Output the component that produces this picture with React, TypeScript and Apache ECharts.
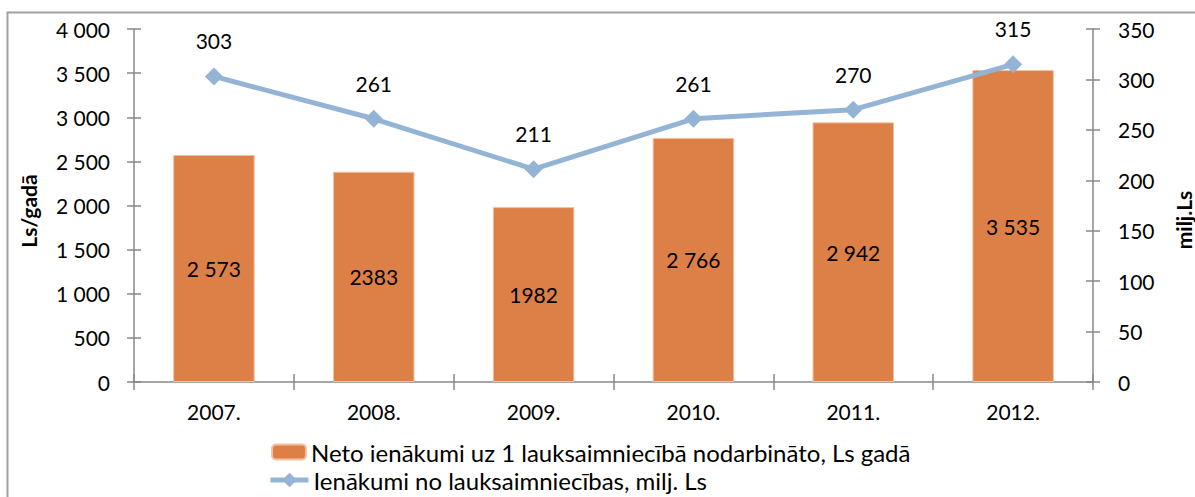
import React, { useEffect, useRef } from "react";
import * as echarts from "echarts";

const categories = ["2007.", "2008.", "2009.", "2010.", "2011.", "2012."];
const barValues = [2573, 2383, 1982, 2766, 2942, 3535];
const barLabels = ["2 573", "2383", "1982", "2 766", "2 942", "3 535"];
const lineValues = [303, 261, 211, 261, 270, 315];
const barName = "Neto ienākumi uz 1 lauksaimniecībā nodarbināto, Ls gadā";
const lineName = "Ienākumi no lauksaimniecības, milj. Ls";
const leftTitle = "Ls/gadā";
const rightTitle = "milj.Ls";

const FONT = "Lato";
const AXIS_COLOR = "#888888";
const BAR_COLOR = "#DD8047";
const LINE_COLOR = "#93B4D5";

const fmtThousands = (v: number) =>
  String(v).replace(/\B(?=(\d{3})+(?!\d))/g, " ");

export default function App() {
  const ref = useRef<HTMLDivElement>(null);
  useEffect(() => {
    document.body.style.margin = "0";
    const chart = echarts.init(ref.current!, null, { renderer: "svg" });
    const grid = { left: 134, right: 102, top: 29, bottom: 115 };
    const tickStyle = { color: AXIS_COLOR, width: 1.5 };
    const baseY = (min: number, max: number, interval: number) => ({
      type: "value" as const,
      min,
      max,
      interval,
      splitLine: { show: false },
      axisLine: { show: true, lineStyle: { color: AXIS_COLOR, width: 1.5 } },
    });
    chart.setOption({
      animation: false,
      grid,
      graphic: [
        {
          type: "rect",
          shape: { x: 7.5, y: 12.5, width: 1300, height: 700 },
          style: { fill: "none", stroke: "#A0A0A0", lineWidth: 2 },
          silent: true,
        },
        {
          type: "text",
          x: 28,
          y: 211,
          rotation: Math.PI / 2,
          style: {
            text: leftTitle,
            font: `bold 21px ${FONT}`,
            fill: "#000",
            align: "center",
            verticalAlign: "middle",
          },
        },
        {
          type: "text",
          x: 1183,
          y: 220,
          rotation: Math.PI / 2,
          style: {
            text: rightTitle,
            font: `bold 21px ${FONT}`,
            fill: "#000",
            align: "center",
            verticalAlign: "middle",
          },
        },
      ],
      legend: [
        {
          data: [barName],
          orient: "vertical",
          left: 271,
          top: 440,
          padding: 0,
          itemWidth: 34,
          itemHeight: 15,
          itemGap: 6,
          textStyle: { fontFamily: FONT, fontSize: 24, color: "#000" },
        },
        {
          data: [lineName],
          orient: "vertical",
          left: 268,
          top: 468,
          padding: 0,
          itemWidth: 38,
          itemHeight: 18,
          itemGap: 5,
          lineStyle: { width: 5, color: LINE_COLOR },
          itemStyle: { color: LINE_COLOR },
          textStyle: { fontFamily: FONT, fontSize: 24, color: "#000" },
        },
      ],
      xAxis: [
        {
          type: "category",
          data: categories,
          axisLine: { lineStyle: { color: AXIS_COLOR, width: 1.5 } },
          axisTick: { show: true, length: 8, lineStyle: tickStyle },
          axisLabel: {
            fontFamily: FONT,
            fontSize: 21,
            color: "#000",
            margin: 19,
          },
        },
        {
          type: "category",
          data: categories,
          position: "bottom",
          axisLine: { show: false },
          axisTick: { show: true, inside: true, length: 8, lineStyle: tickStyle },
          axisLabel: { show: false },
        },
      ],
      yAxis: [
        {
          ...baseY(0, 4000, 500),
          position: "left",
          axisTick: { show: true, length: 7, lineStyle: tickStyle },
          axisLabel: {
            fontFamily: FONT,
            fontSize: 21,
            color: "#000",
            margin: 24,
            formatter: (v: number) => fmtThousands(v),
          },
        },
        {
          ...baseY(0, 350, 50),
          position: "right",
          axisTick: { show: true, length: 7, lineStyle: tickStyle },
          axisLabel: {
            fontFamily: FONT,
            fontSize: 21,
            color: "#000",
            margin: 25,
          },
        },
        {
          ...baseY(0, 4000, 500),
          position: "left",
          axisLine: { show: false },
          axisTick: { show: true, inside: true, length: 7, lineStyle: tickStyle },
          axisLabel: { show: false },
        },
        {
          ...baseY(0, 350, 50),
          position: "right",
          axisLine: { show: false },
          axisTick: { show: true, inside: true, length: 7, lineStyle: tickStyle },
          axisLabel: { show: false },
        },
      ],
      series: [
        {
          name: barName,
          type: "bar",
          data: barValues,
          barWidth: "51%",
          yAxisIndex: 0,
          itemStyle: { color: BAR_COLOR, borderColor: "#F3C1A2", borderWidth: 1 },
          label: {
            show: true,
            position: "inside",
            fontFamily: FONT,
            fontSize: 21,
            color: "#000",
            formatter: (p: any) => barLabels[p.dataIndex],
          },
        },
        {
          name: lineName,
          type: "line",
          data: lineValues,
          yAxisIndex: 1,
          symbol: "diamond",
          symbolSize: 18,
          lineStyle: { color: LINE_COLOR, width: 5 },
          itemStyle: { color: LINE_COLOR },
          label: {
            show: true,
            position: "top",
            distance: 16,
            fontFamily: FONT,
            fontSize: 21,
            color: "#000",
          },
        },
      ],
    });
    return () => chart.dispose();
  }, []);
  return <div ref={ref} style={{ width: 1195, height: 497 }} />;
}
